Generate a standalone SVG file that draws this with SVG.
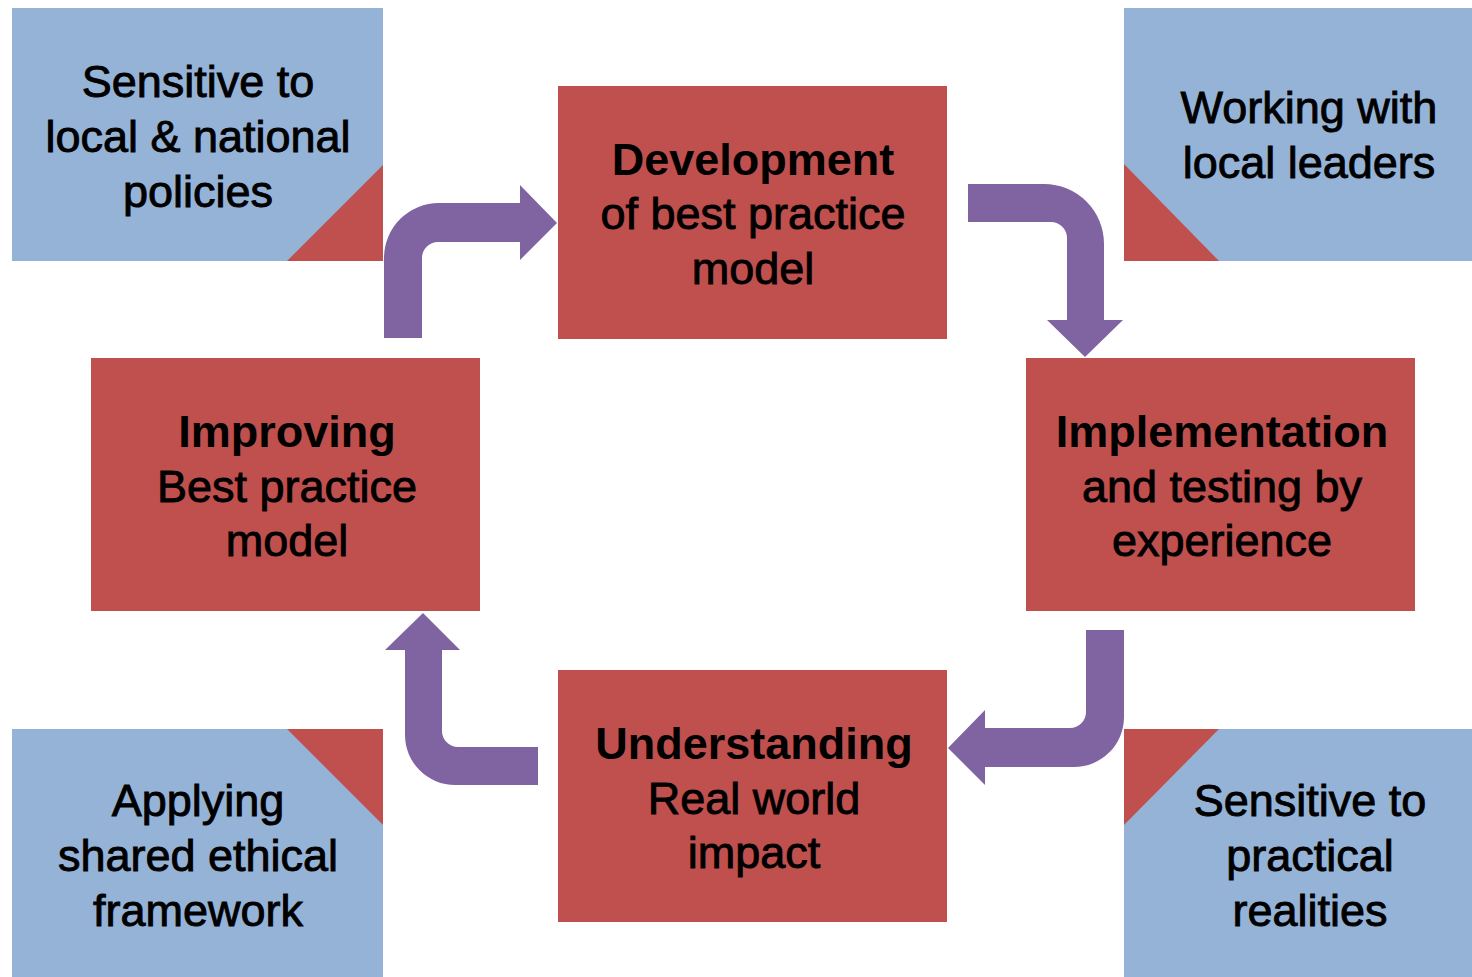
<svg xmlns="http://www.w3.org/2000/svg" width="1472" height="977" viewBox="0 0 1472 977">
<style>
.blue{fill:#95B3D7}
.red{fill:#C0504D}
.arrow{fill:#8064A2}
text{font-family:"Liberation Sans",Arial,sans-serif;font-size:45px;fill:#000;text-anchor:middle}
.n{stroke:#000;stroke-width:0.9}
.b{font-weight:bold}
</style>
<rect width="1472" height="977" fill="#fff"/>
<g id="note-tl">
<rect class="blue" x="12" y="8" width="371" height="253"/>
<polygon class="red" points="383,165 383,261 287,261"/>
<text class="n" x="198" y="97">Sensitive to</text>
<text class="n" x="198" y="152">local &amp; national</text>
<text class="n" x="198" y="207">policies</text>
</g>
<g id="note-tr">
<rect class="blue" x="1124" y="8" width="348" height="253"/>
<polygon class="red" points="1124,164 1124,261 1219,261"/>
<text class="n" x="1309" y="123">Working with</text>
<text class="n" x="1309" y="178">local leaders</text>
</g>
<g id="note-bl">
<rect class="blue" x="12" y="729" width="371" height="248"/>
<polygon class="red" points="287,729 383,729 383,825"/>
<text class="n" x="198" y="816">Applying</text>
<text class="n" x="198" y="871">shared ethical</text>
<text class="n" x="198" y="926">framework</text>
</g>
<g id="note-br">
<rect class="blue" x="1124" y="729" width="348" height="248"/>
<polygon class="red" points="1124,729 1219,729 1124,825"/>
<text class="n" x="1310" y="816">Sensitive to</text>
<text class="n" x="1310" y="871">practical</text>
<text class="n" x="1310" y="926">realities</text>
</g>
<g id="development">
<rect class="red" x="558" y="86" width="389" height="253"/>
<text class="b" x="753" y="175">Development</text>
<text class="n" x="753" y="229">of best practice</text>
<text class="n" x="753" y="284">model</text>
</g>
<g id="implementation">
<rect class="red" x="1026" y="358" width="389" height="253"/>
<text class="b" x="1222" y="447">Implementation</text>
<text class="n" x="1222" y="502">and testing by</text>
<text class="n" x="1222" y="556">experience</text>
</g>
<g id="understanding">
<rect class="red" x="558" y="670" width="389" height="252"/>
<text class="b" x="754" y="759">Understanding</text>
<text class="n" x="754" y="814">Real world</text>
<text class="n" x="754" y="868">impact</text>
</g>
<g id="improving">
<rect class="red" x="91" y="358" width="389" height="253"/>
<text class="b" x="287" y="447">Improving</text>
<text class="n" x="287" y="502">Best practice</text>
<text class="n" x="287" y="556">model</text>
</g>
<g id="connectors">
<path class="arrow" d="M384,338 L384,258 A55,55 0 0 1 439,203 L520,203 L520,185 L557,223 L520,260 L520,242 L438,242 A16,16 0 0 0 422,258 L422,338 Z"/>
<path class="arrow" d="M968,184 L1044,184 A60,60 0 0 1 1104,244 L1104,320 L1123,320 L1085,357 L1047,320 L1067,320 L1067,238 A16,16 0 0 0 1051,222 L968,222 Z"/>
<path class="arrow" d="M1086,630 L1124,630 L1124,717 A50,50 0 0 1 1074,767 L985,767 L985,785 L948,748 L985,710 L985,728 L1070,728 A16,16 0 0 0 1086,712 Z"/>
<path class="arrow" d="M538,785 L455,785 A50,50 0 0 1 405,735 L405,650 L385,650 L423,613 L460,650 L442,650 L442,731 A16,16 0 0 0 458,747 L538,747 Z"/>
</g>
</svg>
